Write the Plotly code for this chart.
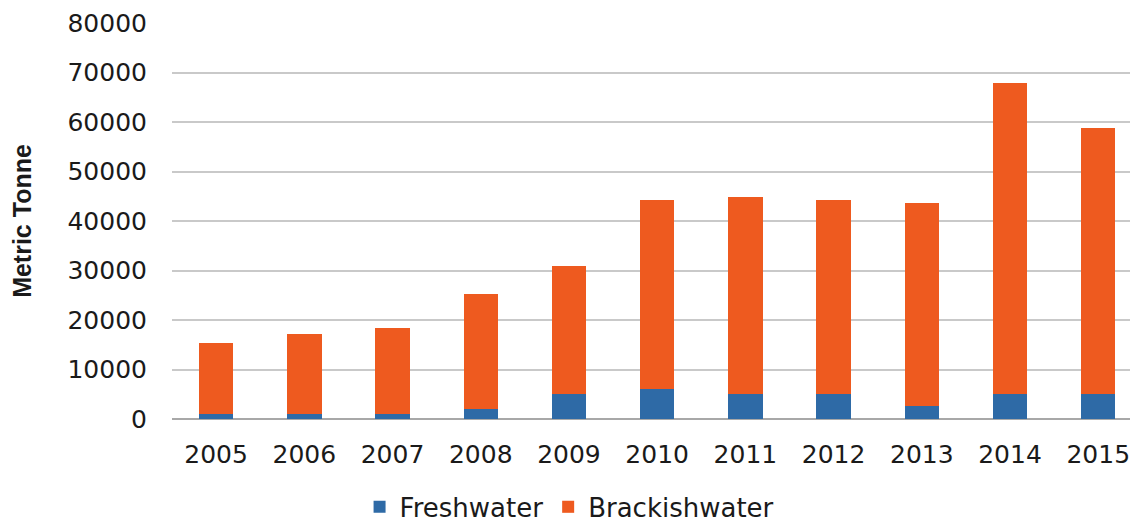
import plotly.graph_objects as go

years = ["2005", "2006", "2007", "2008", "2009", "2010", "2011", "2012", "2013", "2014", "2015"]
freshwater = [1000, 1000, 1000, 2100, 5000, 6000, 5000, 5000, 2700, 5000, 5000]
brackishwater = [14300, 16200, 17300, 23100, 26000, 38200, 39800, 39200, 40900, 62900, 53700]
y_ticks = [0, 10000, 20000, 30000, 40000, 50000, 60000, 70000, 80000]

BLUE = "#2E6AA6"
ORANGE = "#EE5A1F"
FONT = "DejaVu Sans, Liberation Sans, Arial, sans-serif"
TITLE_FONT = "Liberation Sans, Arial, sans-serif"

fig = go.Figure()
fig.add_trace(go.Bar(x=years, y=freshwater, name="Freshwater", marker=dict(color=BLUE, line=dict(width=0))))
fig.add_trace(go.Bar(x=years, y=brackishwater, name="Brackishwater", marker=dict(color=ORANGE, line=dict(width=0))))

fig.update_layout(
    barmode="stack",
    bargap=0.61,
    width=1130,
    height=525,
    margin=dict(l=172, r=0, t=23, b=106, autoexpand=False),
    paper_bgcolor="white",
    plot_bgcolor="white",
    font=dict(family=FONT, color="#1a1a1a", size=24),
    showlegend=True,
    legend=dict(
        orientation="h",
        x=0.415, xanchor="center",
        y=-0.222, yanchor="middle",
        font=dict(size=26, family=FONT, color="#1a1a1a"),
        itemwidth=30,
        borderwidth=0,
        traceorder="normal",
    ),
    xaxis=dict(
        type="category",
        range=[-0.5, 10.36],
        showgrid=False,
        showline=False,
        ticks="",
        tickfont=dict(size=25, family=FONT, color="#1a1a1a"),
        ticklabelstandoff=18,
    ),
    yaxis=dict(
        range=[0, 80000],
        tickvals=y_ticks,
        ticktext=[str(v) for v in y_ticks],
        showgrid=True,
        gridcolor="#C9C9C9",
        gridwidth=1.5,
        zeroline=True,
        zerolinecolor="#A8A8A8",
        zerolinewidth=2,
        ticks="",
        tickfont=dict(size=25, family=FONT, color="#1a1a1a"),
        ticklabelstandoff=24,
        title=dict(text="<b>Metric Tonne</b>", font=dict(size=25, family=TITLE_FONT, color="#1a1a1a"), standoff=28),
    ),
)

fig.write_html("out.html")
